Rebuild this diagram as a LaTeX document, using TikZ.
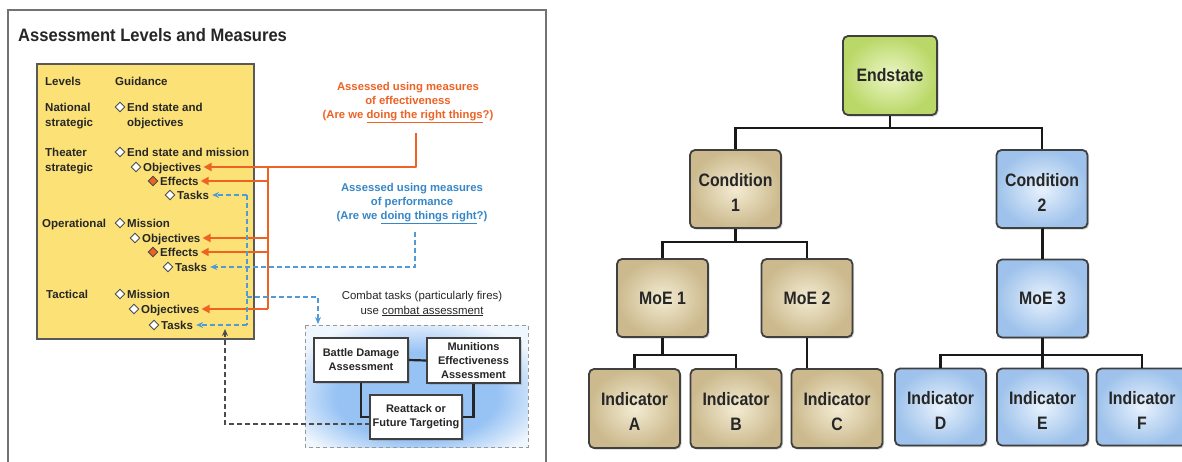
\documentclass[tikz,border=0pt]{standalone}
\usepackage{fontspec}
\setmainfont{Liberation Sans}
\newfontfamily\treefont[FakeStretch=0.88]{Liberation Sans}
\newfontfamily\titlefont[FakeStretch=0.92]{Liberation Sans}
\usetikzlibrary{shapes.geometric,arrows.meta,shadows}
\definecolor{orangeA}{RGB}{238,98,36}
\definecolor{blueT}{RGB}{55,135,200}
\definecolor{blueL}{RGB}{80,155,215}
\definecolor{yellowF}{RGB}{252,226,118}
\definecolor{tanIn}{RGB}{243,235,210}
\definecolor{tanOut}{RGB}{204,186,142}
\definecolor{bluIn}{RGB}{232,242,253}
\definecolor{bluOut}{RGB}{158,194,235}
\definecolor{grnIn}{RGB}{236,246,198}
\definecolor{grnOut}{RGB}{186,216,104}
\definecolor{cbIn}{RGB}{150,194,244}
\definecolor{cbOut}{RGB}{240,246,253}
\pgfdeclareradialshading{cbglow}{\pgfpoint{0bp}{-6bp}}{color(0bp)=(cbIn); color(18bp)=(cbIn); color(31bp)=(cbOut); color(60bp)=(cbOut)}
\begin{document}
\begin{tikzpicture}[x=1pt,y=-1pt,
  lvl/.style={anchor=west, font=\fontsize{11.5}{15}\selectfont\bfseries, align=left, inner sep=0pt, text=black!85, text height=9pt, text depth=1pt},
  lvltwo/.style={lvl, text height=24pt},
  dia/.style={diamond, draw=black!70, fill=white, line width=0.9pt, minimum size=10pt, inner sep=0pt},
  diaR/.style={dia, fill=orangeA},
  oline/.style={draw=orangeA, line width=2.4pt},
  oarr/.style={oline, -{Triangle[length=8pt,width=8pt]}},
  bline/.style={draw=blueL, line width=1.3pt, dash pattern=on 5pt off 3pt},
  barr/.style={bline, -{Stealth[length=7pt,width=6pt]}},
  karr/.style={draw=black!70, line width=1.3pt, dash pattern=on 5pt off 3pt, -{Stealth[length=7pt,width=6pt]}},
  wbox/.style={rectangle, draw=black!75, fill=white, line width=1.2pt, align=center, font=\fontsize{11}{14}\selectfont\bfseries, text=black!85, inner sep=1pt, drop shadow={opacity=0.3, shadow xshift=1.5pt, shadow yshift=-1.5pt}},
  kline/.style={draw=black!85, line width=2.2pt},
  tree/.style={rectangle, rounded corners=5pt, draw=black!75, line width=1.8pt, minimum width=91pt, minimum height=78pt, align=center, font=\treefont\fontsize{18}{25}\selectfont\bfseries, text=black!85, drop shadow={opacity=0.35, shadow xshift=1.5pt, shadow yshift=-1.5pt}},
  twoline/.style={text height=44pt, text depth=0pt},
  tan/.style={tree, inner color=tanIn, outer color=tanOut},
  blu/.style={tree, inner color=bluIn, outer color=bluOut},
  grn/.style={tree, inner color=grnIn, outer color=grnOut},
  tline/.style={draw=black!90, line width=2.5pt}
]
\useasboundingbox (0,0) rectangle (1182,461);
\clip (0,0) rectangle (1182,461);
\fill[white] (0,0) rectangle (1182,461);

% ---------- left panel ----------
\draw[draw=black!55, line width=1.5pt] (8,10) rectangle (546,480);
\node[anchor=west, inner sep=0pt, font=\titlefont\fontsize{18}{20}\selectfont\bfseries, text=black!85] (title) at (18,35) {Assessment Levels and Measures};

\draw[fill=yellowF, draw=black!65, line width=1.2pt] (37,64) rectangle (254,339);

\node[lvl] (levels) at (45,81) {Levels};
\node[lvl] (guid) at (115,81) {Guidance};
\node[lvltwo] (nat) at (45,114.5) {National\\strategic};
\node[dia] (d1) at (120,107) {};
\node[lvltwo] (es1) at (127,114.5) {End state and\\objectives};
\node[lvltwo] (thea) at (45,160) {Theater\\strategic};
\node[dia] (d2) at (120,152) {};
\node[lvl] (es2) at (127,152) {End state and mission};
\node[dia] (d3) at (136,167) {};
\node[lvl] (ob1) at (143,167) {Objectives};
\node[diaR] (d4) at (153,181) {};
\node[lvl] (eff1) at (160,181) {Effects};
\node[dia] (d5) at (170,195) {};
\node[lvl] (ta1) at (177,195) {Tasks};
\node[lvl] (oper) at (42,223) {Operational};
\node[dia] (d6) at (120,223) {};
\node[lvl] (mi1) at (127,223) {Mission};
\node[dia] (d7) at (135,238) {};
\node[lvl] (ob2) at (142,238) {Objectives};
\node[diaR] (d8) at (153,252) {};
\node[lvl] (eff2) at (160,252) {Effects};
\node[dia] (d9) at (168,267) {};
\node[lvl] (ta2) at (175,267) {Tasks};
\node[lvl] (tact) at (46,294) {Tactical};
\node[dia] (d10) at (120,294) {};
\node[lvl] (mi2) at (127,294) {Mission};
\node[dia] (d11) at (134,309) {};
\node[lvl] (ob3) at (141,309) {Objectives};
\node[dia] (d12) at (154,325) {};
\node[lvl] (ta3) at (161,325) {Tasks};

% measures text
\node[align=center, inner sep=0pt, font=\fontsize{11.3}{14}\selectfont\bfseries, text=orangeA] (moe) at (408,103) {Assessed using measures\\of effectiveness\\(Are we \underline{doing the right things}?)};
\node[align=center, inner sep=0pt, font=\fontsize{11.3}{14}\selectfont\bfseries, text=blueT] (mop) at (412,204) {Assessed using measures\\of performance\\(Are we \underline{doing things right}?)};
\node[align=center, inner sep=0pt, font=\fontsize{11.4}{15}\selectfont, text=black!85] (cbt) at (422,303.5) {Combat tasks (particularly fires)\\use \underline{combat assessment}};

% orange arrows
\coordinate (oeS) at (416,133);
\coordinate (ov1) at (268,167);
\coordinate (ov2) at (268,309);
\draw[oline] (ov1) -- (ov2);
\draw[oarr, line join=round] (oeS) |- ([xshift=2pt]ob1.east);
\draw[oarr] (ov1 |- eff1.east) -- ([xshift=2pt]eff1.east);
\draw[oarr] (ov1 |- ob2.east) -- ([xshift=2pt]ob2.east);
\draw[oarr] (ov1 |- eff2.east) -- ([xshift=2pt]eff2.east);
\draw[oarr] (ov2) -- ([xshift=2pt]ob3.east);

% blue dashed arrows
\coordinate (bv1) at (247,195);
\coordinate (bv2) at (247,325);
\coordinate (bh) at (247,297);
\coordinate (mpS) at (415,232);
\coordinate (cbEnd) at (318,324);
\draw[bline] (bv1) -- (bv2);
\draw[barr] (bv1) -- ([xshift=3pt]ta1.east);
\draw[barr] (bv2) -- ([xshift=3pt]ta3.east);
\draw[barr] (mpS) |- ([xshift=3pt]ta2.east);
\draw[barr] (bh) -| (cbEnd);

% combat assessment box
\path[shading=cbglow] (305,325) rectangle (528,447);
\draw[draw=black!40, line width=1pt, dash pattern=on 4pt off 3pt] (305,325) rectangle (528,447);
\node[wbox, minimum width=94pt, minimum height=44pt] (bda) at (361,360) {Battle Damage\\Assessment};
\node[wbox, minimum width=93pt, minimum height=45pt] (mea) at (473.5,360.5) {Munitions\\Effectiveness\\Assessment};
\node[wbox, minimum width=92pt, minimum height=44pt] (rt) at (416,417) {Reattack or\\Future Targeting};
\draw[kline] (bda.east) -- (mea.west);
\draw[kline] (bda.south) |- (rt.west);
\draw[kline] (mea.south) |- (rt.east);

% black dashed feedback
\coordinate (kS) at (370,424);
\coordinate (kE) at (225,329);
\draw[karr] (kS) -| (kE);

% ---------- right tree ----------
\node[grn, minimum width=94pt, minimum height=79pt] (end) at (890,75.5) {Endstate};
\node[tan, twoline] (c1) at (735.5,189) {Condition\\1};
\node[blu, twoline] (c2) at (1042,189) {Condition\\2};
\node[tan] (m1) at (662.5,298) {MoE 1};
\node[tan] (m2) at (807,298) {MoE 2};
\node[blu] (m3) at (1042.5,298.5) {MoE 3};
\node[tan, twoline, minimum height=79pt] (iA) at (634.5,408.5) {Indicator\\A};
\node[tan, twoline, minimum height=79pt] (iB) at (736,408.5) {Indicator\\B};
\node[tan, twoline, minimum height=79pt] (iC) at (837,408.5) {Indicator\\C};
\node[blu, twoline, minimum height=77pt] (iD) at (940.5,407) {Indicator\\D};
\node[blu, twoline, minimum height=77pt] (iE) at (1042.5,407) {Indicator\\E};
\node[blu, twoline, minimum height=77pt] (iF) at (1142,407) {Indicator\\F};

\coordinate (j0) at (890,128);
\coordinate (j1) at (735,242);
\coordinate (j2) at (663,355);
\coordinate (j3) at (1042,355);
\draw[tline] (end.south) -- (end.south |- j0);
\draw[tline] (c1.north) -- (c1.north |- j0) -- (c2.north |- j0) -- (c2.north);
\draw[tline] (c1.south) -- (c1.south |- j1);
\draw[tline] (m1.north) -- (m1.north |- j1) -- (m2.north |- j1) -- (m2.north);
\draw[tline] (m1.south) -- (m1.south |- j2);
\draw[tline] (iA.north) -- (iA.north |- j2) -- (iB.north |- j2) -- (iB.north);
\draw[tline] (m2.south) -- (m2.south |- iC.north);
\draw[tline] (c2.south) -- (m3.south |- c2.south) -- (m3.north);
\draw[tline] (m3.south) -- (m3.south |- j3);
\draw[tline] (iD.north) -- (iD.north |- j3) -- (iF.north |- j3) -- (iF.north);
\draw[tline] (m3.south |- j3) -- (iE.north);
\end{tikzpicture}
\end{document}
